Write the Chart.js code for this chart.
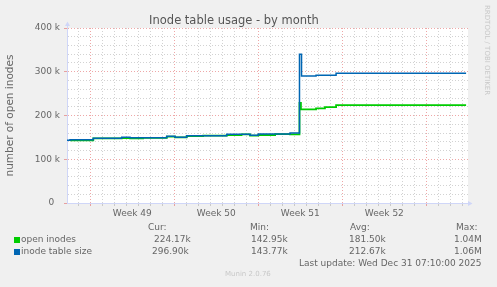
<!DOCTYPE html>
<html><head><meta charset="utf-8">
<script src="https://cdn.jsdelivr.net/npm/chart.js@4/dist/chart.umd.min.js"></script>
<style>
html,body{margin:0;padding:0;background:#f0f0f0;}
#wrap{position:relative;width:497px;height:287px;overflow:hidden;background:#f0f0f0;font-family:'DejaVu Sans',sans-serif;color:#666;}
canvas{position:absolute;left:0;top:0;}
.t{position:absolute;font-size:9px;line-height:12px;white-space:pre;}
.sq{position:absolute;width:6px;height:6px;}
.wm{position:absolute;font-size:7px;color:#c8c8c8;white-space:pre;}
</style></head>
<body><div id="wrap"><canvas id="c" width="497" height="287"></canvas>
<div class="t" style="left:148px;top:221px">Cur:</div>
<div class="t" style="left:250px;top:221px">Min:</div>
<div class="t" style="left:350px;top:221px">Avg:</div>
<div class="t" style="left:456px;top:221px">Max:</div>
<div class="sq" style="left:14px;top:237px;background:#00cc00"></div>
<div class="t" style="left:21px;top:233px">open inodes</div>
<div class="t" style="left:154px;top:233px" id="c0"></div>
<div class="t" style="left:251px;top:233px" id="n0"></div>
<div class="t" style="left:349px;top:233px" id="a0"></div>
<div class="t" style="left:454px;top:233px" id="m0"></div>
<div class="sq" style="left:14px;top:249px;background:#0066b3"></div>
<div class="t" style="left:21px;top:245px">inode table size</div>
<div class="t" style="left:152px;top:245px" id="c1"></div>
<div class="t" style="left:251px;top:245px" id="n1"></div>
<div class="t" style="left:349px;top:245px" id="a1"></div>
<div class="t" style="left:454px;top:245px" id="m1"></div>
<div class="t" style="left:299px;top:257px">Last update: Wed Dec 31 07:10:00 2025</div>
<div class="wm" style="left:225px;top:270px">Munin 2.0.76</div>
<div class="wm" style="left:483px;top:5px;writing-mode:vertical-rl;">RRDTOOL / TOBI OETIKER</div>
</div>
<script>
// ---- data (x in days from the left edge of the graph, y in thousands) ----
const openDays   = [0.31, 2.25, 4.62, 5.31, 6.4, 8.37, 9.06, 10.03, 11.4, 13.37, 14.6, 15.31, 16.0, 17.4, 18.64, 19.43, 19.55, 20.81, 21.55, 22.48, 33.31];
const openK      = [143.0, 147.8, 148.6, 147.8, 149.0, 151.8, 150.0, 153.0, 153.8, 155.4, 156.8, 154.2, 155.4, 157.5, 157.0, 229.0, 214.0, 216.4, 219.2, 223.8, 223.8];
const tableDays  = [0.06, 0.31, 2.25, 4.62, 5.31, 8.37, 9.06, 10.03, 13.37, 15.31, 16.0, 18.64, 19.43, 19.6, 20.81, 22.48, 33.31];
const tableK     = [143.3, 144.7, 147.9, 150.2, 149.3, 152.4, 150.2, 153.9, 157.0, 154.7, 157.7, 160.0, 340.0, 290.3, 291.8, 296.4, 296.4];
const weekCenters = [5.5, 12.5, 19.5, 26.5];
const weekLabels  = ['Week 49', 'Week 50', 'Week 51', 'Week 52'];
const majorDays   = [2, 9, 16, 23, 30];
const seriesNames = ['open inodes', 'inode table size'];
const curVals = ['224.17k', '296.90k'];
const minVals = ['142.95k', '143.77k'];
const avgVals = ['181.50k', '212.67k'];
const maxVals = ['1.04M', '1.06M'];

['c','n','a','m'].forEach((p,j)=>{
  const src=[curVals,minVals,avgVals,maxVals][j];
  document.getElementById(p+'0').textContent=src[0];
  document.getElementById(p+'1').textContent=src[1];
});

Chart.defaults.font.family = "'DejaVu Sans', sans-serif";
Chart.defaults.font.size = 9;
Chart.defaults.color = '#666';

const MINOR = 'rgba(143,143,143,0.4)';
const MAJOR = 'rgba(222,79,79,0.5)';
const AXIS = '#cfd6f8';

const decor = {
  id: 'decor',
  beforeDraw(c) {
    const a = c.chartArea, ctx = c.ctx;
    ctx.save(); ctx.fillStyle = '#fff';
    ctx.fillRect(a.left, a.top, a.right - a.left, a.bottom - a.top);
    ctx.restore();
  },
  afterDraw(c) {
    const a = c.chartArea, ctx = c.ctx;
    const x0 = Math.round(a.left) + 0.5, y0 = Math.round(a.bottom) + 0.5;
    ctx.save();
    ctx.strokeStyle = AXIS; ctx.fillStyle = AXIS; ctx.lineWidth = 1;
    ctx.beginPath(); ctx.moveTo(x0, a.top); ctx.lineTo(x0, a.top - 3); ctx.stroke();
    ctx.beginPath(); ctx.moveTo(x0 - 2.5, a.top - 2); ctx.lineTo(x0 + 2.5, a.top - 2); ctx.lineTo(x0, a.top - 6.5); ctx.closePath(); ctx.fill();
    ctx.beginPath(); ctx.moveTo(a.right, y0); ctx.lineTo(a.right + 1, y0); ctx.stroke();
    ctx.beginPath(); ctx.moveTo(a.right, y0 - 2.5); ctx.lineTo(a.right, y0 + 2.5); ctx.lineTo(a.right + 4.5, y0); ctx.closePath(); ctx.fill();
    ctx.restore();
  }
};

const isMajorX = v => majorDays.some(d => Math.abs(d - v) < 1e-6);
const isMajorY = v => Math.abs(v % 100000) < 1e-6;

new Chart(document.getElementById('c'), {
  type: 'line',
  data: {
    datasets: [
      { label: seriesNames[1], data: tableDays.map((d,i)=>({x:d, y:tableK[i]*1000})),
        borderColor: '#0066b3', borderWidth: 1.5, stepped: true, pointRadius: 0, order: 0 },
      { label: seriesNames[0], data: openDays.map((d,i)=>({x:d, y:openK[i]*1000})),
        borderColor: '#00cc00', borderWidth: 1.8, stepped: true, pointRadius: 0, order: 1 }
    ]
  },
  options: {
    responsive: false, animation: false, devicePixelRatio: 1,
    layout: { padding: { left: 0, right: 29, top: 0, bottom: 0 } },
    plugins: {
      legend: { display: false }, tooltip: { enabled: false },
      title: { display: true, text: 'Inode table usage - by month', color: '#555',
               font: { size: 11.5, weight: 'normal' }, padding: { top: 14, bottom: 0.2 } }
    },
    scales: {
      x: {
        type: 'linear', position: 'bottom', min: 0.06, max: 33.47, weight: 0,
        afterFit(s) { s.height = 4; },
        ticks: { display: false, stepSize: 1, autoSkip: false, includeBounds: false },
        grid: { color: ctx => isMajorX(ctx.tick.value) ? MAJOR : MINOR,
                tickColor: ctx => isMajorX(ctx.tick.value) ? MAJOR : MINOR,
                drawTicks: true, tickLength: 3, lineWidth: 1 },
        border: { display: true, color: AXIS, width: 1, dash: [1, 2] }
      },
      x2: {
        type: 'linear', position: 'bottom', min: 0.06, max: 33.47, weight: 1,
        afterFit(s) { s.height = 80; },
        afterBuildTicks(s) { s.ticks = weekCenters.map(v => ({ value: v })); },
        ticks: { autoSkip: false, maxRotation: 0, padding: 1, color: '#666',
                 callback: (v, i) => weekLabels[i] },
        grid: { display: false, drawTicks: false },
        border: { display: false }
      },
      y: {
        type: 'linear', min: 0, max: 400000,
        afterFit(s) { s.width = 67; },
        ticks: { stepSize: 20000, autoSkip: false, padding: 4, color: '#666',
                 callback: v => isMajorY(v) ? (v === 0 ? '0\u00a0\u00a0' : (v / 1000) + ' k') : '' },
        grid: { color: ctx => isMajorY(ctx.tick.value) ? MAJOR : MINOR,
                tickColor: ctx => isMajorY(ctx.tick.value) ? MAJOR : 'rgba(0,0,0,0)',
                drawTicks: true, tickLength: 3 },
        border: { display: true, color: AXIS, width: 1, dash: [1, 2] },
        title: { display: true, text: 'number of open inodes', color: '#666',
                 font: { size: 10.5 }, padding: { top: 4, bottom: 0 } }
      }
    }
  },
  plugins: [decor]
});
</script>
</body></html>
